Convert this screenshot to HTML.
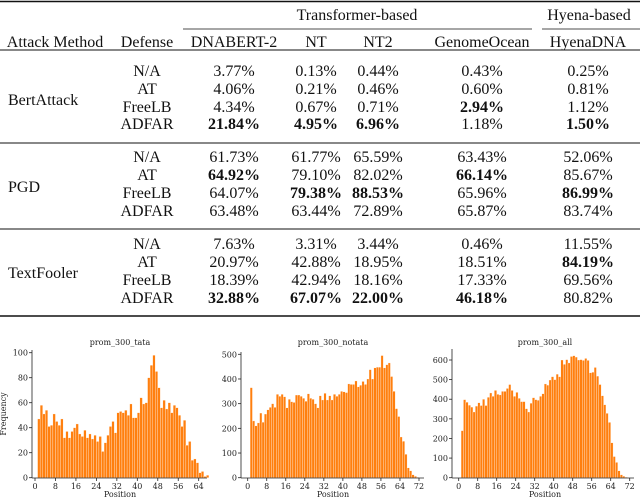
<!DOCTYPE html>
<html><head><meta charset="utf-8"><style>
html,body{margin:0;padding:0;background:#fff;}
svg{display:block;}
.t{font-family:"Liberation Serif",serif;font-size:16px;fill:#111;}
.c{font-family:"DejaVu Serif","Liberation Serif",serif;font-size:8px;fill:#222;}
</style></head><body>
<svg id="root" width="640" height="497" viewBox="0 0 640 497">
<g id="table"></g>
<g id="charts"></g>
</svg>
<script>
const NS="http://www.w3.org/2000/svg";
const tataVals=[47,58,51,54,41,42,51,45,42,47,32,37,32,37,40,43,35,33,38,32,35,31,34,29,33,21,28,34,41,45,36,52,53,52,54,50,59,48,48,52,64,59,60,80,90,98,85,72,56,62,55,60,52,58,56,50,41,46,26,29,14,15,12,4,5,1,2];
const notataVals=[365,230,210,222,262,225,258,275,285,300,285,338,330,338,328,283,318,308,305,335,335,330,322,310,340,322,318,300,283,332,315,342,315,332,315,338,330,338,350,348,345,380,378,378,392,368,375,390,378,400,438,400,445,448,448,495,445,458,465,410,350,280,248,165,148,95,40,28,12,6,2];
const allVals=[240,398,385,370,360,335,365,382,368,400,368,410,432,415,445,425,422,440,440,455,475,445,415,435,405,388,388,352,335,380,408,398,395,415,428,478,472,498,515,500,528,515,600,578,602,585,618,622,615,600,602,598,608,598,535,538,562,518,475,418,372,328,282,178,108,78,35,15,8,3];
const xTicks1=[0,8,16,24,32,40,48,56,64];
const xTicks2=[0,8,16,24,32,40,48,56,64,72];
const yTicks1=[0,20,40,60,80,100];
const yTicks2=[0,100,200,300,400,500];
const yTicks3=[0,100,200,300,400,500,600];
const colHeads=["DNABERT-2","NT","NT2","GenomeOcean","HyenaDNA"];
const attacks=["BertAttack","PGD","TextFooler"];
const defenses=["N/A","AT","FreeLB","ADFAR"];
const cells=[
["3.77%","0.13%","0.44%","0.43%","0.25%"],["4.06%","0.21%","0.46%","0.60%","0.81%"],["4.34%","0.67%","0.71%","*2.94%","1.12%"],["*21.84%","*4.95%","*6.96%","1.18%","*1.50%"],
["61.73%","61.77%","65.59%","63.43%","52.06%"],["*64.92%","79.10%","82.02%","*66.14%","85.67%"],["64.07%","*79.38%","*88.53%","65.96%","*86.99%"],["63.48%","63.44%","72.89%","65.87%","83.74%"],
["7.63%","3.31%","3.44%","0.46%","11.55%"],["20.97%","42.88%","18.95%","18.51%","*84.19%"],["18.39%","42.94%","18.16%","17.33%","69.56%"],["*32.88%","*67.07%","*22.00%","*46.18%","80.82%"]];

function el(tag,attrs,parent,txt){const e=document.createElementNS(NS,tag);for(const k in attrs)e.setAttribute(k,attrs[k]);if(txt!==undefined)e.textContent=txt;parent.appendChild(e);return e;}
const T=document.getElementById('table');
function line(x1,y1,x2,y2,w,p){return el('line',{x1,y1,x2,y2,stroke:'#111','stroke-width':w},p);}
line(0,1.5,640,1.5,1.6,T);line(0,50,640,50,1,T);line(0,143,640,143,1,T);line(0,229,640,229,1,T);line(0,316,640,316,1.6,T);
line(183,29,532,29,0.8,T);line(542,29,640,29,0.8,T);
let h=el('text',{x:357,y:20,'text-anchor':'middle',class:'t'},T,'Transformer-based');

h=el('text',{x:589,y:20,'text-anchor':'middle',class:'t'},T,'Hyena-based');

const colX=[234,316,378,482,588];
h=el('text',{x:55,y:47,'text-anchor':'middle',class:'t'},T,'Attack Method');

h=el('text',{x:147,y:47,'text-anchor':'middle',class:'t'},T,'Defense');

colHeads.forEach((c,i)=>{const t=el('text',{x:colX[i],y:47,'text-anchor':'middle',class:'t'},T,c);
});
const groupY=[[76,94,112,129],[162,180,198,216],[249,267,285,303]];
const groupLabelY=[105,192,278];
attacks.forEach((a,g)=>{const t=el('text',{x:8,y:groupLabelY[g],class:'t'},T,a);

defenses.forEach((d,r)=>{const y=groupY[g][r];
const dt=el('text',{x:147,y,'text-anchor':'middle',class:'t'},T,d);

cells[g*4+r].forEach((v,i)=>{const b=v[0]==='*';const ct=el('text',{x:colX[i],y,'text-anchor':'middle',class:'t','font-weight':b?'bold':'normal'},T,b?v.slice(1):v);
});});});

const C=document.getElementById('charts');
function chart(o){
const g=el('g',{},C);

const xs=v=>o.x0+(v/o.xmax)*(o.x1-o.x0);
const ys=v=>477.7-(v/o.ymax)*(477.7-o.ytop);
o.vals.forEach((v,i)=>{const xa=xs(i+1),xb=xs(i+2);
const r=el('rect',{x:xa,y:ys(v),width:xb-xa,height:477.7-ys(v),fill:'#ff7f0e',stroke:'#fff','stroke-width':0.3},g);
});
el('line',{x1:o.sx,y1:o.sTop,x2:o.sx,y2:478,stroke:'#222','stroke-width':0.8},g);
el('line',{x1:o.sx,y1:478,x2:o.sEnd,y2:478,stroke:'#222','stroke-width':0.8},g);
o.xt.forEach(t=>{el('line',{x1:xs(t),y1:478,x2:xs(t),y2:481,stroke:'#222','stroke-width':0.8},g);
const l=el('text',{x:xs(t),y:489,'text-anchor':'middle',class:'c'},g,t);
});
o.yt.forEach(t=>{el('line',{x1:o.sx-3,y1:ys(t),x2:o.sx,y2:ys(t),stroke:'#222','stroke-width':0.8},g);
const l=el('text',{x:o.sx-4,y:ys(t)+3,'text-anchor':'end',class:'c'},g,t);
});
const ti=el('text',{x:o.tx,y:345,'text-anchor':'middle',class:'c'},g,o.title);

const xl=el('text',{x:o.tx,y:497,'text-anchor':'middle',class:'c'},g,'Position');

if(o.ylab){const yl=el('text',{x:0,y:0,'text-anchor':'middle',class:'c',transform:'translate(6,414) rotate(-90)'},g,'Frequency');
}
}
chart({name:'chart-prom-300-tata',vals:tataVals,x0:35,x1:198.7,xmax:64,ymax:100,ytop:352.7,sx:32,sTop:350,sEnd:207,xt:xTicks1,yt:yTicks1,title:'prom_300_tata',tx:120,ylab:true});
chart({name:'chart-prom-300-notata',vals:notataVals,x0:247.7,x1:419,xmax:72,ymax:500,ytop:354.3,sx:241,sTop:352,sEnd:424,xt:xTicks2,yt:yTicks2,title:'prom_300_notata',tx:333,ylab:false});
chart({name:'chart-prom-300-all',vals:allVals,x0:458.7,x1:629.7,xmax:72,ymax:600,ytop:360,sx:452,sTop:349,sEnd:634,xt:xTicks2,yt:yTicks3,title:'prom_300_all',tx:545,ylab:false});
</script>
</body></html>
